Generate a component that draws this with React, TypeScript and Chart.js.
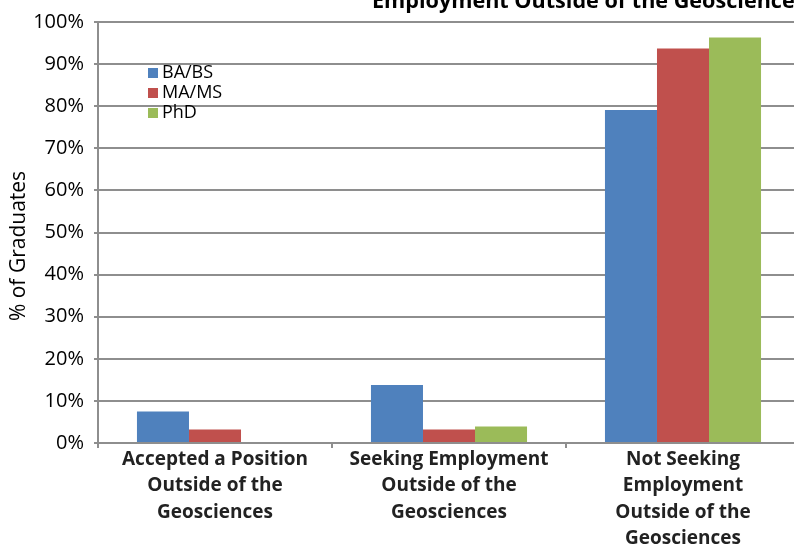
import React, { useEffect, useRef } from "react";
import { Chart, registerables } from "chart.js";

Chart.register(...registerables);

const categories: string[][] = [
  ["Accepted a Position", "Outside of the", "Geosciences"],
  ["Seeking Employment", "Outside of the", "Geosciences"],
  ["Not Seeking", "Employment", "Outside of the", "Geosciences"],
];
const seriesNames = ["BA/BS", "MA/MS", "PhD"];
const baValues = [7.5, 13.8, 79.1];
const maValues = [3.2, 3.2, 93.7];
const phdValues = [0, 3.9, 96.3];
const seriesColors = ["#4F81BD", "#C0504D", "#9BBB59"];
const titleText = "Employment Outside of the Geosciences";
const yTitle = "% of Graduates";

const FONT = "'Open Sans', 'DejaVu Sans', sans-serif";
const GRID = "#8e8e8e";

const overlayPlugin = {
  id: "overlay",
  afterDraw(chart: any) {
    const ctx = chart.ctx;
    ctx.save();
    // title
    ctx.fillStyle = "#000";
    ctx.font = `bold 21.6px ${FONT}`;
    ctx.textAlign = "left";
    ctx.textBaseline = "alphabetic";
    ctx.fillText(titleText, 372, 8);
    // y title
    ctx.save();
    ctx.translate(19, 246);
    ctx.rotate(-Math.PI / 2);
    ctx.textAlign = "center";
    ctx.textBaseline = "middle";
    ctx.font = `21px ${FONT}`;
    ctx.fillText(yTitle, 0, 0);
    ctx.restore();
    // legend
    const ys = [73, 93, 113];
    chart.data.datasets.forEach((ds: any, i: number) => {
      ctx.fillStyle = ds.backgroundColor;
      ctx.fillRect(148, ys[i] - 5, 10, 10);
      ctx.fillStyle = "#000";
      ctx.font = `18px ${FONT}`;
      ctx.textAlign = "left";
      ctx.textBaseline = "middle";
      ctx.fillText(ds.label, 162, ys[i]);
    });
    ctx.restore();
  },
};

export default function App() {
  const ref = useRef<HTMLCanvasElement | null>(null);
  useEffect(() => {
    if (!ref.current) return;
    const chart = new Chart(ref.current, {
      type: "bar",
      data: {
        labels: categories,
        datasets: [
          { label: seriesNames[0], data: baValues, backgroundColor: seriesColors[0] },
          { label: seriesNames[1], data: maValues, backgroundColor: seriesColors[1] },
          { label: seriesNames[2], data: phdValues, backgroundColor: seriesColors[2] },
        ],
      },
      options: {
        responsive: false,
        animation: false,
        layout: { padding: { top: 19, left: 0, right: 2, bottom: 0 } },
        plugins: { legend: { display: false }, title: { display: false }, tooltip: { enabled: false } },
        datasets: { bar: { categoryPercentage: 0.667, barPercentage: 1 } },
        scales: {
          x: {
            grid: { offset: true, drawOnChartArea: false, drawTicks: true, tickLength: 5, color: GRID, lineWidth: 2 },
            border: { display: true, color: GRID, width: 2 },
            ticks: {
              color: "#222",
              font: { family: FONT, size: 19, weight: "bold", lineHeight: "26.5px" } as any,
              padding: -2,
              maxRotation: 0,
              autoSkip: false,
            },
            afterFit(s: any) { s.height = 101; },
          },
          y: {
            min: 0,
            max: 100,
            ticks: {
              stepSize: 10,
              callback: (v: any) => v + "%",
              color: "#000",
              font: { family: FONT, size: 20 },
              padding: 10,
            },
            grid: { color: GRID, lineWidth: 2, tickLength: 4 },
            border: { display: true, color: GRID, width: 2 },
            afterFit(s: any) { s.width = 98; },
          },
        },
      },
      plugins: [overlayPlugin],
    });
    return () => chart.destroy();
  }, []);
  return (
    <div style={{ position: "absolute", left: 0, top: 0, width: 794, height: 544, overflow: "hidden", background: "#fff" }}>
      <canvas ref={ref} width={802} height={544} style={{ display: "block" }} />
    </div>
  );
}
